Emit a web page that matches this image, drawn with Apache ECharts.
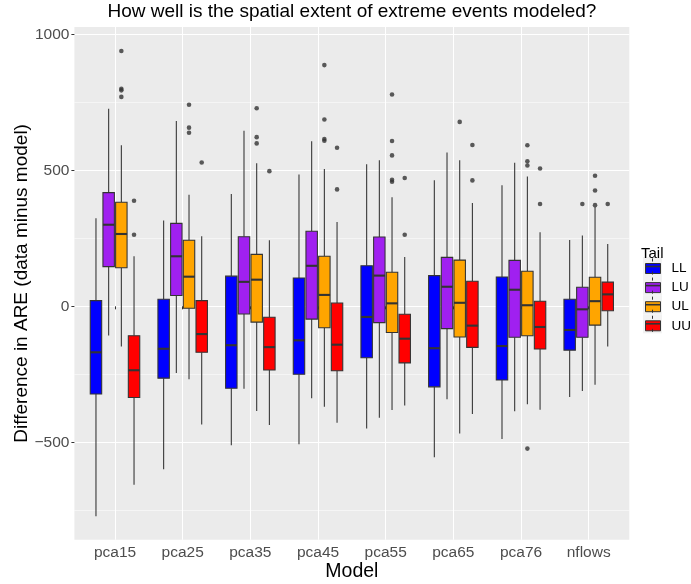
<!DOCTYPE html>
<html><head><meta charset="utf-8">
<script src="https://cdn.jsdelivr.net/npm/echarts@6/dist/echarts.min.js"></script>
<style>html,body{margin:0;padding:0;background:#fff}#chart{width:691px;height:584px}</style>
</head><body><div id="chart"></div>
<script>
// ---------- data ----------
const models = ['pca15','pca25','pca35','pca45','pca55','pca65','pca76','nflows'];
const tails = ['LL','LU','UL','UU'];
const tailColors = ['#0000FF','#A020F0','#FFA500','#FF0000'];
const yTickValues = [-500, 0, 500, 1000];

// [whiskerLow, Q1, median, Q3, whiskerHigh] per model
const statsLL = [[-772,-322,-169,21,324],[-599,-264,-156,26,316],[-511,-301,-143,111,413],[-507,-250,-125,104,485],
                 [-449,-189,-39,149,522],[-555,-296,-154,113,464],[-488,-271,-146,108,445],[-333,-161,-87,26,244]];
const statsLU = [[-107,146,300,418,726],[-245,40,184,305,681],[-303,-28,90,256,646],[-338,-47,149,276,607],
                 [-410,-60,113,255,537],[-342,-82,72,180,566],[-386,-114,61,169,528],[-311,-114,-11,70,260]];
const statsUL = [[-148,142,266,383,592],[-268,-7,109,243,410],[-385,-58,98,191,526],[-369,-79,42,184,505],
                 [-381,-96,11,125,401],[-468,-113,13,170,537],[-360,-108,4,129,477],[-288,-69,19,107,365]];
const statsUU = [[-656,-335,-235,-108,184],[-434,-169,-102,21,258],[-436,-234,-150,-40,243],[-428,-237,-141,12,310],
                 [-365,-208,-119,-29,181],[-396,-151,-71,92,380],[-380,-157,-76,19,272],[-148,-16,44,89,229]];

// outliers: [modelIndex, value]
const outliersLL = [];
const outliersLU = [[7,376]];
const outliersUL = [[0,939],[0,800],[0,794],[0,770],[1,741],[1,657],[1,638],[2,728],[2,622],[2,599],
                    [3,887],[3,687],[3,615],[3,609],[4,779],[4,608],[4,555],[4,465],[4,458],[5,678],
                    [6,592],[6,533],[6,518],[6,-523],[7,480],[7,426],[7,372]];
const outliersUU = [[0,388],[0,263],[1,529],[2,497],[3,583],[3,430],[4,472],[4,263],[5,593],[5,463],
                    [6,507],[6,376],[7,376]];

const allStats = [statsLL, statsLU, statsUL, statsUU];
const allOutliers = [outliersLL, outliersLU, outliersUL, outliersUU];

// ---------- layout / style ----------
const FONT = '"Liberation Sans", Arial, Helvetica, sans-serif';
const dodge = 0.1875;            // slot width per tail (0.75 / 4)
const boxW = 0.169;              // box width in category units
const offsets = [-1.5, -0.5, 0.5, 1.5].map(k => k * dodge);

function makeRender(off) {
  return function (params, api) {
    const x = api.value(0) + off;
    const lo = api.value(1), q1 = api.value(2), md = api.value(3), q3 = api.value(4), hi = api.value(5);
    const pHi = api.coord([x, hi]), pQ3 = api.coord([x, q3]), pQ1 = api.coord([x, q1]), pLo = api.coord([x, lo]);
    const pL = api.coord([x - boxW / 2, md]), pR = api.coord([x + boxW / 2, md]);
    const stroke = '#333333';
    return {
      type: 'group',
      children: [
        { type: 'line', shape: { x1: pHi[0], y1: pHi[1], x2: pQ3[0], y2: pQ3[1] }, style: { stroke, lineWidth: 1.07 } },
        { type: 'line', shape: { x1: pQ1[0], y1: pQ1[1], x2: pLo[0], y2: pLo[1] }, style: { stroke, lineWidth: 1.07 } },
        { type: 'rect', shape: { x: pL[0], y: pQ3[1], width: pR[0] - pL[0], height: pQ1[1] - pQ3[1] },
          style: { fill: api.visual('color'), stroke, lineWidth: 1.07 } },
        { type: 'line', shape: { x1: pL[0], y1: pL[1], x2: pR[0], y2: pR[1] }, style: { stroke, lineWidth: 2.1 } }
      ]
    };
  };
}

const series = [];
tails.forEach((t, i) => {
  series.push({
    name: t, type: 'custom', silent: true,
    itemStyle: { color: tailColors[i] },
    renderItem: makeRender(offsets[i]),
    encode: { x: 0, y: [1, 2, 3, 4, 5] },
    data: allStats[i].map((s, m) => [m + 1].concat(s)),
    z: 2
  });
});
tails.forEach((t, i) => {
  series.push({
    name: t, type: 'scatter', silent: true, symbol: 'circle', symbolSize: 4.6,
    itemStyle: { color: '#333333' },
    data: allOutliers[i].map(o => [o[0] + 1 + offsets[i], o[1]]),
    z: 3
  });
});

// legend key layout (ggplot-style keys)
const keyH = 19.1, keyW = 19.1, keyCx = 652.5, firstKeyCy = 266.5;
const keyCenters = tails.map((t, i) => firstKeyCy + keyH * i);
const graphics = [];
keyCenters.forEach(cy => {
  graphics.push({ type: 'rect', z: 1, silent: true, shape: { x: keyCx - keyW / 2, y: cy - keyH / 2, width: keyW, height: keyH }, style: { fill: '#F2F2F2' } });
  graphics.push({ type: 'line', z: 10, silent: true, shape: { x1: keyCx, y1: cy - keyH / 2 + 1.5, x2: keyCx, y2: cy - 5 }, style: { stroke: '#333', lineWidth: 1 } });
  graphics.push({ type: 'line', z: 10, silent: true, shape: { x1: keyCx, y1: cy + 5, x2: keyCx, y2: cy + keyH / 2 - 1.5 }, style: { stroke: '#333', lineWidth: 1 } });
  graphics.push({ type: 'line', z: 10, silent: true, shape: { x1: keyCx - 7.5, y1: cy, x2: keyCx + 7.5, y2: cy }, style: { stroke: '#333', lineWidth: 1.6 } });
});

const legends = tails.map((t, i) => ({
  data: [t], orient: 'vertical', left: keyCx - 7.5, top: keyCenters[i] - 5, padding: 0,
  itemWidth: 15, itemHeight: 10, icon: 'rect', selectedMode: false,
  itemStyle: { borderColor: '#333', borderWidth: 1 },
  textStyle: { fontSize: 13.5, color: '#000', lineHeight: 10, height: 10, padding: [0, 0, 0, 6], fontFamily: FONT }
}));

const fmtY = v => (yTickValues.indexOf(v) < 0 ? '' : (v < 0 ? '\u2212' + Math.abs(v) : String(v)));
const fmtX = v => { const i = Math.round(v); return (Math.abs(v - i) < 1e-6 && models[i - 1]) ? models[i - 1] : ''; };

const option = {
  animation: false,
  textStyle: { fontFamily: FONT },
  title: [
    { text: 'How well is the spatial extent of extreme events modeled?', left: 351.9, textAlign: 'center', top: 2, padding: 0,
      textStyle: { fontSize: 19, fontWeight: 'normal', color: '#000', fontFamily: FONT } },
    { text: 'Tail', left: 641, top: 246, padding: 0,
      textStyle: { fontSize: 15, fontWeight: 'normal', color: '#000', fontFamily: FONT } }
  ],
  legend: legends,
  grid: { left: 74.4, right: 61.7, top: 27, bottom: 44.3, show: true, backgroundColor: '#EBEBEB', borderWidth: 0,
          containLabel: false, outerBoundsMode: 'none' },
  xAxis: {
    type: 'value', min: 0.4, max: 8.6, minInterval: 1, maxInterval: 1,
    name: 'Model', nameLocation: 'middle', nameGap: 22, nameMoveOverlap: false,
    nameTextStyle: { fontSize: 19.5, color: '#000', fontFamily: FONT },
    axisLine: { show: false },
    axisTick: { show: true, length: 3, lineStyle: { color: '#333', width: 1 }, customValues: [1,2,3,4,5,6,7,8] },
    axisLabel: { customValues: [1,2,3,4,5,6,7,8], formatter: fmtX, color: '#4D4D4D', fontSize: 15.5, margin: 5, fontFamily: FONT },
    splitLine: { show: true, lineStyle: { color: '#FFFFFF', width: 1.07 } }
  },
  yAxis: {
    type: 'value', min: -858, max: 1027, minInterval: 500, maxInterval: 500, splitNumber: 4,
    name: 'Difference in ARE (data minus model)', nameLocation: 'middle', nameGap: 43, nameMoveOverlap: false,
    nameTextStyle: { fontSize: 19, color: '#000', fontFamily: FONT },
    axisLine: { show: false },
    axisTick: { show: true, length: 3, lineStyle: { color: '#333', width: 1 }, customValues: yTickValues },
    axisLabel: { customValues: yTickValues, formatter: fmtY, color: '#4D4D4D', fontSize: 15.5, margin: 5, fontFamily: FONT },
    splitLine: { show: true, lineStyle: { color: '#FFFFFF', width: 1.07 } },
    minorTick: { show: false, splitNumber: 2 },
    minorSplitLine: { show: true, lineStyle: { color: '#FFFFFF', width: 0.53 } }
  },
  graphic: graphics,
  series: series
};

const chart = echarts.init(document.getElementById('chart'), null, { renderer: 'canvas' });
chart.setOption(option);
</script>
</body></html>
